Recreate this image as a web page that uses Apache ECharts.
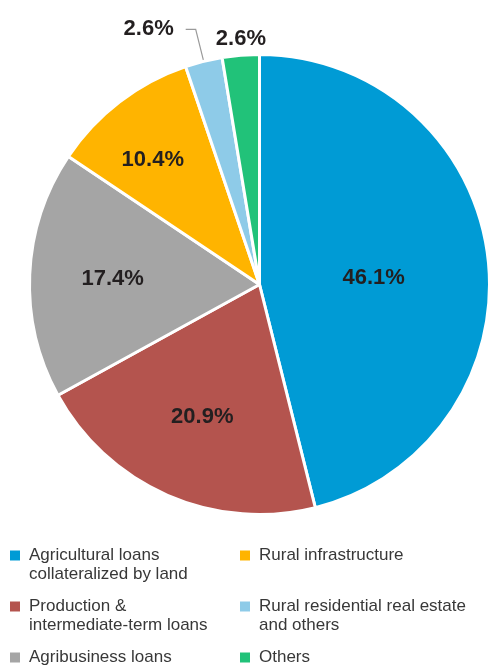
<!DOCTYPE html>
<html>
<head>
<meta charset="utf-8">
<script src="https://cdn.jsdelivr.net/npm/echarts@6/dist/echarts.min.js"></script>
<style>
  html, body { margin: 0; padding: 0; background: #fff; }
  #chart { width: 489px; height: 665px; }
</style>
</head>
<body>
<div id="chart"></div>
<script>
// Loan portfolio composition (share of total, %)
const categories = [
  'Agricultural loans\ncollateralized by land',
  'Production &\nintermediate-term loans',
  'Agribusiness loans',
  'Rural infrastructure',
  'Rural residential real estate\nand others',
  'Others'
];
const shares = [46.1, 20.9, 17.4, 10.4, 2.6, 2.6];
const colors = ['#009bd5', '#b4544e', '#a5a5a5', '#ffb400', '#8ecbe8', '#21c279'];

// Legend reads across two columns
const legendOrder = [0, 3, 1, 4, 2, 5];

const FONT = '"Liberation Sans Narrow", "Arial Narrow", "Liberation Sans", Arial, sans-serif';

// Per-slice label placement tweaks
const labelTweaks = [
  { position: 'inside', offset: [-3, 8] },
  { position: 'inside', offset: [-10, 24] },
  { position: 'inside', offset: [-29, 0] },
  { position: 'inside', offset: [-35, -31] },
  { position: 'outside' },
  { position: 'inside', offset: [-9, -128] }
];

const data = categories.map((name, i) => {
  const t = labelTweaks[i];
  const item = {
    name: name,
    value: shares[i],
    itemStyle: { color: colors[i] },
    label: { position: t.position },
    labelLine: { show: t.position === 'outside' }
  };
  if (t.offset) item.label.offset = t.offset;
  return item;
});

const chart = echarts.init(document.getElementById('chart'), null, { renderer: 'canvas' });

chart.setOption({
  animation: false,
  backgroundColor: '#ffffff',
  legend: {
    orient: 'horizontal',
    left: 10,
    top: 527,
    padding: 0,
    width: 479,
    itemWidth: 10,
    itemHeight: 10,
    itemGap: -6,
    icon: 'rect',
    itemStyle: { borderWidth: 0 },
    selectedMode: false,
    data: legendOrder.map(i => categories[i]),
    // three-line block so the first text line sits level with the swatch
    formatter: function (name) {
      const lines = name.split('\n');
      if (lines.length < 2) lines.push(' ');
      return ' \n' + lines.join('\n');
    },
    textStyle: {
      fontFamily: FONT,
      fontSize: 17,
      lineHeight: 19,
      color: '#383838',
      width: 217,
      padding: [0, 0, 0, 4]
    }
  },
  series: [{
    type: 'pie',
    center: [259.5, 284.5],
    radius: [0, 230],
    startAngle: 90,
    clockwise: true,
    avoidLabelOverlap: false,
    itemStyle: { borderColor: '#ffffff', borderWidth: 3 },
    label: {
      show: true,
      formatter: p => p.value.toFixed(1) + '%',
      fontFamily: FONT,
      fontSize: 22,
      fontWeight: 'bold',
      color: '#231f20',
      distanceToLabelLine: 12
    },
    labelLine: {
      length: 33,
      length2: 10,
      smooth: false,
      lineStyle: { color: '#9a9a9a', width: 1.2 }
    },
    emphasis: { disabled: true },
    data: data
  }]
});
</script>
</body>
</html>
